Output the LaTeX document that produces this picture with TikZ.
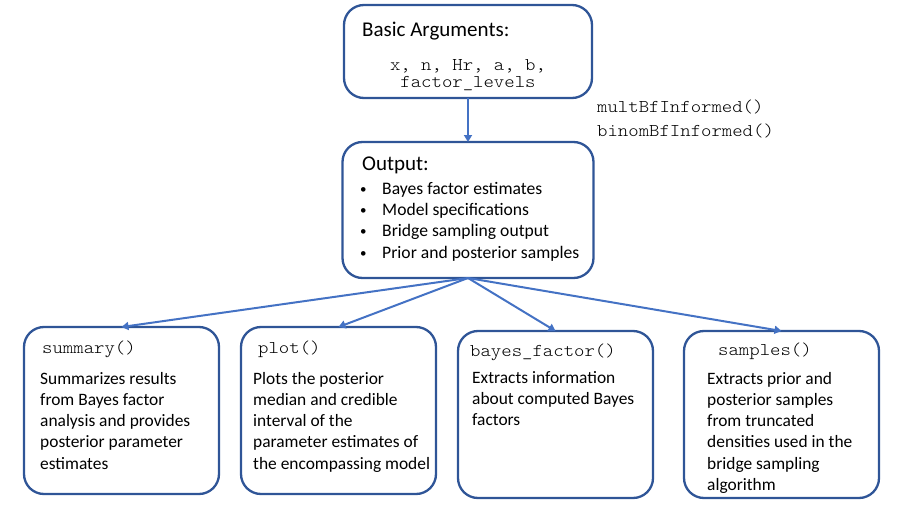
\documentclass[tikz,border=0pt]{standalone}
\usepackage{fontspec}
\setmainfont{Carlito}
\setmonofont[FakeStretch=1.1]{Latin Modern Mono Light}
\usetikzlibrary{arrows.meta,positioning}
\definecolor{boxblue}{HTML}{2F5597}
\definecolor{arrowblue}{HTML}{4472C4}
\newcommand{\outbullet}{\makebox[22pt][l]{\raisebox{1pt}{\fontsize{13}{13}\selectfont\textbullet}}}

\begin{document}
\begin{tikzpicture}[x=1pt,y=-1pt,
    box/.style={rectangle,draw=boxblue,line width=2.3pt,rounded corners=20pt,minimum width=195pt,minimum height=167pt,inner sep=0pt,outer sep=0pt},
    arrow/.style={-{Triangle[length=7pt,width=8pt]},draw=arrowblue,line width=2pt},
    head/.style={anchor=base west,inner sep=0pt,font=\fontsize{21}{24}\selectfont},
    code/.style={anchor=base west,inner sep=0pt,font=\fontsize{18}{17}\ttfamily},
    body/.style={anchor=north west,inner sep=0pt,align=left,font=\fontsize{17.4}{21.2}\selectfont}
]
\useasboundingbox (0,0) rectangle (900,506);

% boxes
\node[box,minimum width=248pt,minimum height=93pt] (args) at (468,51.5) {};
\node[box,minimum width=251pt,minimum height=136pt,below=44pt of args] (output) {};
\node[box] (summary) at (121.5,410.5) {};
\node[box,right=22pt of summary] (plot) {};
\node[box,right=22pt of plot,yshift=-4pt] (bf) {};
\node[box,right=31pt of bf] (samples) {};

% texts
\node[head] (argshead) at (362,36) {Basic Arguments:};
\node[code,anchor=north,align=center] (argslist) at (468,59) {x, n, Hr, a, b,\\factor\_levels};
\node[code,anchor=north west,align=left,font=\fontsize{18}{24}\ttfamily] (funcs) at (597,100) {multBfInformed()\\binomBfInformed()};

\node[head] (outhead) at (362,170) {Output:};
\node[body,font=\fontsize{17.6}{21.3}\selectfont] (outlist) at (360,182) {%
  \outbullet Bayes factor estimates\\
  \outbullet Model specifications\\
  \outbullet Bridge sampling output\\
  \outbullet Prior and posterior samples};

\node[code] (sumname) at ([shift={(18,26)}]summary.north west) {summary()};
\node[body] (sumtext) at ([shift={(16,45)}]summary.north west) {Summarizes results\\from Bayes factor\\analysis and provides\\posterior parameter\\estimates};

\node[code] (plotname) at ([shift={(17,26)}]plot.north west) {plot()};
\node[body] (plottext) at ([shift={(12,45)}]plot.north west) {Plots the posterior\\median and credible\\interval of the\\parameter estimates of\\the encompassing model};

\node[code] (bfname) at ([shift={(12,25)}]bf.north west) {bayes\_factor()};
\node[body] (bftext) at ([shift={(14,40)}]bf.north west) {Extracts information\\about computed Bayes\\factors};

\node[code] (samplesname) at ([shift={(34,24)}]samples.north west) {samples()};
\node[body] (samplestext) at ([shift={(23,41)}]samples.north west) {Extracts prior and\\posterior samples\\from truncated\\densities used in the\\bridge sampling\\algorithm};

% arrows
\draw[arrow] (args) -- (output);
\draw[arrow] (output.south) -- (summary.north);
\draw[arrow] (output.south) -- (plot.north);
\draw[arrow] (output.south) -- (bf.north);
\draw[arrow] (output.south) -- (samples.north);
\end{tikzpicture}
\end{document}
